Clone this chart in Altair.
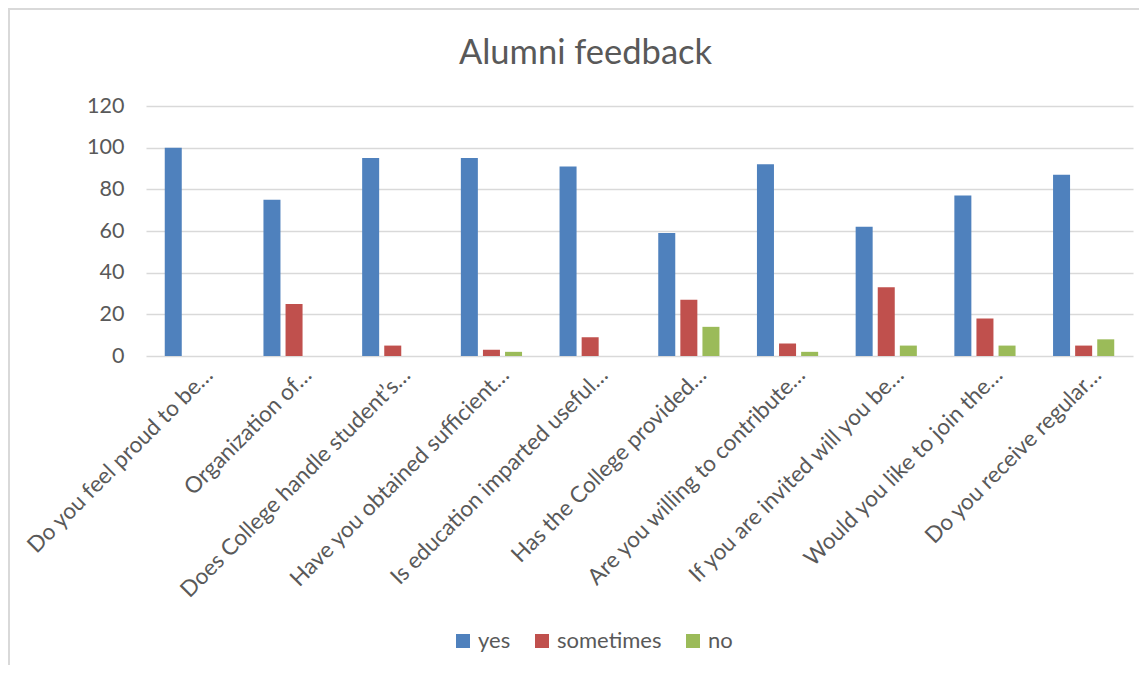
import altair as alt
import pandas as pd

categories = [
    "Do you feel proud to be…",
    "Organization of…",
    "Does College handle student’s…",
    "Have you obtained sufficient…",
    "Is education imparted useful…",
    "Has the College provided…",
    "Are you willing to contribute…",
    "If you are invited will you be…",
    "Would you like to join the…",
    "Do you receive regular…",
]
series = ["yes", "sometimes", "no"]
yes_vals = [100, 75, 95, 95, 91, 59, 92, 62, 77, 87]
sometimes_vals = [0, 25, 5, 3, 9, 27, 6, 33, 18, 5]
no_vals = [0, 0, 0, 2, 0, 14, 2, 5, 5, 8]
colors = ["#4F81BD", "#C0504D", "#9BBB59"]

rows = []
for s, vals in zip(series, [yes_vals, sometimes_vals, no_vals]):
    for c, v in zip(categories, vals):
        rows.append({"question": c, "answer": s, "value": v})
df = pd.DataFrame(rows)

FONT = "Lato"
TXT = "#595959"

bars = alt.Chart(df).mark_bar().encode(
    x=alt.X("question:N", sort=categories, title=None,
            scale=alt.Scale(paddingInner=0.38, paddingOuter=0.19),
            axis=alt.Axis(labelAngle=-45, labelAlign="right", labelBaseline="middle",
                          labelPadding=15, labelOffset=14, ticks=False, domain=False,
                          labelFont=FONT, labelFontSize=22.5, labelColor=TXT,
                          labelLimit=400, labelOverlap=False)),
    xOffset=alt.XOffset("answer:N", sort=series,
                        scale=alt.Scale(paddingInner=0.23, paddingOuter=0)),
    y=alt.Y("value:Q", title=None,
            scale=alt.Scale(domain=[0, 120], nice=False),
            axis=alt.Axis(values=[0, 20, 40, 60, 80, 100, 120], ticks=False, domain=False,
                          labelPadding=22, labelFont=FONT, labelFontSize=21.5, labelColor=TXT,
                          gridColor="#d9d9d9", gridWidth=1.5)),
    color=alt.Color("answer:N", sort=series, title=None,
                    scale=alt.Scale(domain=series, range=colors),
                    legend=alt.Legend(orient="none", direction="horizontal",
                                      legendX=306, legendY=524,
                                      symbolType="square", symbolSize=196,
                                      symbolStrokeWidth=0, symbolOpacity=1,
                                      labelFont=FONT, labelFontSize=22, labelColor=TXT,
                                      labelOffset=4, columnPadding=20)),
)

frame = alt.Chart(alt.Data(values=[{}])).mark_rect(
    fill=None, stroke="#d9d9d9", strokeWidth=2
).encode(
    x=alt.value(-137), x2=alt.value(1200),
    y=alt.value(-97), y2=alt.value(700),
)

chart = alt.layer(frame, bars).properties(
    width=987,
    height=250,
    autosize=alt.AutoSizeParams(type="none"),
    padding={"left": 138, "top": 98, "right": 6, "bottom": 309},
    title=alt.TitleParams("Alumni feedback", font=FONT, fontSize=34.5, fontWeight="normal",
                          color=TXT, anchor="middle", baseline="alphabetic",
                          offset=0, dx=-54, dy=90),
).configure_view(stroke=None).configure_legend(padding=0)

chart.save("out.html", embed_options={"renderer": "svg", "actions": False})
